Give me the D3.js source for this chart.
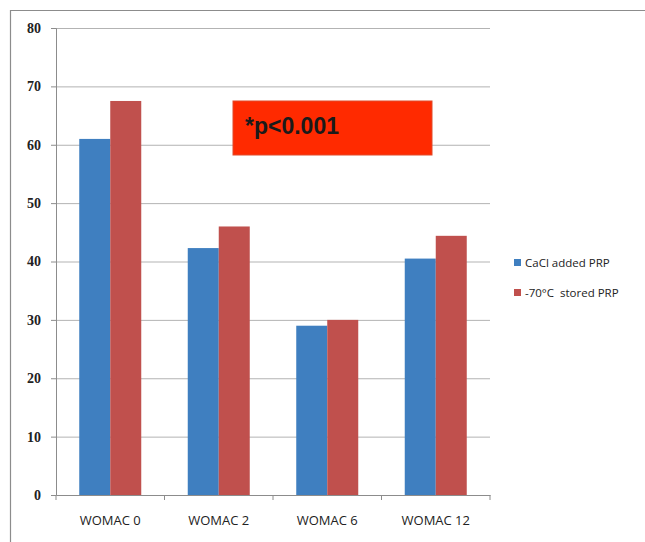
<!DOCTYPE html>
<html>
<head>
<meta charset="utf-8">
<script src="https://cdn.jsdelivr.net/npm/d3@7"></script>
<style>
  body { margin: 0; background: #fff; }
  svg { display: block; }
</style>
</head>
<body>
<div id="chart"></div>
<script>
// values
var categories = ['WOMAC 0', 'WOMAC 2', 'WOMAC 6', 'WOMAC 12'];
var seriesNames = ['CaCl added PRP', '-70\u00B0C  stored PRP'];
var cacl = [61, 42.3, 29, 40.5];
var stored = [67.5, 46, 30, 44.4];
var yTicks = [0, 10, 20, 30, 40, 50, 60, 70, 80];
var colors = ['#3f7fc0', '#c0504d'];

var svg = d3.select('#chart').append('svg')
  .attr('width', 645)
  .attr('height', 542);

// frame (top and left only visible)
svg.append('line').attr('x1', 10).attr('x2', 645).attr('y1', 10.5).attr('y2', 10.5)
  .attr('stroke', '#8c8c8c').attr('stroke-width', 1.2);
svg.append('line').attr('x1', 10.5).attr('x2', 10.5).attr('y1', 10).attr('y2', 542)
  .attr('stroke', '#8c8c8c').attr('stroke-width', 1.2);

var plotLeft = 56, plotRight = 490, plotTop = 28, plotBottom = 495;

var x = d3.scaleBand().domain(categories).range([plotLeft, plotRight]).paddingInner(0).paddingOuter(0);
var x1 = d3.scaleBand().domain([0, 1]).range([0, 62]);
var y = d3.scaleLinear().domain([0, 80]).range([plotBottom, plotTop]);

// gridlines
svg.append('g').selectAll('line')
  .data(yTicks.filter(function(d) { return d > 0; }))
  .enter().append('line')
  .attr('x1', plotLeft).attr('x2', plotRight)
  .attr('y1', function(d) { return y(d) + 0.5; })
  .attr('y2', function(d) { return y(d) + 0.5; })
  .attr('stroke', '#b3b3b3').attr('stroke-width', 1);

// bars
var rows = categories.map(function(c, i) { return {cat: c, vals: [cacl[i], stored[i]]}; });
var groups = svg.append('g').selectAll('g')
  .data(rows)
  .enter().append('g')
  .attr('transform', function(d) { return 'translate(' + (x(d.cat) + (x.bandwidth() - 62) / 2) + ',0)'; });
groups.selectAll('rect')
  .data(function(d) { return d.vals; })
  .enter().append('rect')
  .attr('x', function(d, i) { return x1(i); })
  .attr('width', x1.bandwidth())
  .attr('y', function(d) { return y(d); })
  .attr('height', function(d) { return plotBottom - y(d); })
  .attr('fill', function(d, i) { return colors[i]; });

// y axis
var yAxis = svg.append('g')
  .attr('transform', 'translate(' + plotLeft + ',0)')
  .call(d3.axisLeft(y).tickValues(yTicks).tickSize(5).tickPadding(10));
yAxis.select('.domain').attr('stroke', '#8c8c8c');
yAxis.selectAll('.tick line').attr('stroke', '#8c8c8c');
yAxis.selectAll('text')
  .style('font-family', '"Liberation Serif", serif')
  .style('font-weight', 'bold')
  .style('font-size', '14px')
  .attr('fill', '#222');

// x axis
var xAxis = svg.append('g')
  .attr('transform', 'translate(0,' + plotBottom + ')')
  .call(d3.axisBottom(x).tickSize(0).tickPadding(21));
xAxis.select('.domain').attr('stroke', '#8c8c8c');
xAxis.selectAll('text')
  .style('font-family', '"Open Sans", sans-serif')
  .style('font-size', '13px')
  .attr('fill', '#222');
xAxis.selectAll('.sep')
  .data(d3.range(categories.length + 1))
  .enter().append('line')
  .attr('class', 'sep')
  .attr('x1', function(i) { return plotLeft + i * x.bandwidth(); })
  .attr('x2', function(i) { return plotLeft + i * x.bandwidth(); })
  .attr('y1', 0).attr('y2', 5)
  .attr('stroke', '#8c8c8c');

// p-value box
svg.append('rect')
  .attr('x', 233).attr('y', 101).attr('width', 199).attr('height', 54)
  .attr('fill', '#ff2a00')
  .attr('stroke', '#e04a2a').attr('stroke-width', 1);
svg.append('text')
  .attr('x', 245).attr('y', 134)
  .style('font-family', '"Liberation Sans", Arial, sans-serif')
  .style('font-weight', 'bold')
  .style('font-size', '23px')
  .attr('fill', '#1a1a1a')
  .text('*p<0.001');

// legend
var legend = svg.append('g').selectAll('g')
  .data(seriesNames)
  .enter().append('g')
  .attr('transform', function(d, i) { return 'translate(514,' + (259 + i * 30) + ')'; });
legend.append('rect')
  .attr('width', 7).attr('height', 7)
  .attr('fill', function(d, i) { return colors[i]; });
legend.append('text')
  .attr('x', 11).attr('y', 8)
  .style('font-family', '"Open Sans", sans-serif')
  .style('font-size', '11.5px')
  .style('white-space', 'pre')
  .attr('fill', '#222')
  .text(function(d) { return d; });
</script>
</body>
</html>
